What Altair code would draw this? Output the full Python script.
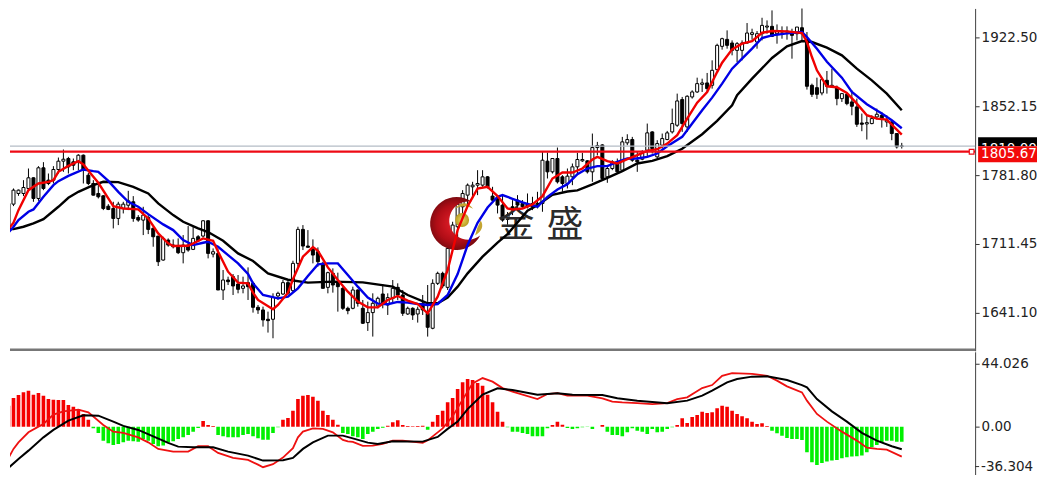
import altair as alt
import pandas as pd

open_ = [1717,1727.3,1752.1,1763,1763,1768.1,1779,1757.9,1789.2,1776.6,
1776.6,1787.5,1796,1798.7,1795.3,1795.3,1802.1,1781.7,1773.2,1763,
1760.6,1750,1747.7,1737.5,1747.7,1751,1754.5,1738.5,1735.8,1738.5,
1727.3,1719.5,1695,1715.4,1710.3,1708.6,1702.5,1710.3,1705.9,1718.8,
1719.5,1735.1,1701.1,1701.8,1664.4,1674.6,1678,1670.5,1666.1,1671.9,
1671.2,1646.7,1644,1634.5,1634.5,1658.3,1660.3,1671.9,1663.7,1691.6,
1726.3,1709.3,1706.9,1703.5,1691.6,1667.1,1681.4,1672.9,1666.1,1645.7,
1645.7,1664.4,1645.7,1631.1,1641.3,1648.1,1660.3,1649.1,1655.9,1667.1,
1659.3,1639.9,1645.7,1639.9,1650.8,1640.6,1625.3,1671.2,1681.4,1667.1,
1706.9,1729,1749.4,1761.3,1769.8,1771.5,1771.5,1780,1760.3,1757.9,
1751.1,1736.5,1749.4,1756.2,1752.8,1752.8,1752.8,1749.4,1752.8,1796,
1785.1,1798.7,1780,1773.2,1780,1790.2,1796.3,1796.3,1785.1,1809.9,
1812.6,1780,1788.5,1795.3,1786.8,1814.7,1818.1,1797,1798,1807.2,
1825.9,1800.4,1812.3,1818.1,1825.9,1832.7,1858.9,1831,1861.6,1866.7,
1874.5,1875.9,1873.5,1889.5,1913.3,1920.4,1916.7,1909.2,1909.2,1916.7,
1925.5,1917.7,1926.2,1933,1933.7,1926.2,1927.9,1928.9,1927.9,1926.2,
1932.3,1920.1,1873.5,1871.1,1865.7,1878.6,1871.8,1871.1,1859.9,1864.3,
1856.5,1851.4,1835,1834,1834.4,1841.2,1842.9,1836.1,1836.1,1824.2,1811.6]

high = [1727,1756.9,1768.1,1767,1776.6,1788.5,1779.5,1790.9,1795,1783.4,
1790.9,1799.7,1807.9,1800.4,1798.7,1803.1,1802.8,1784.1,1776.6,1773.2,
1761.3,1752.1,1754.5,1754.5,1754.5,1765.7,1760.3,1740.9,1749.4,1740.9,
1729,1719.5,1718.8,1717.1,1716.1,1717.1,1720.5,1729.7,1729,1720.5,
1735.8,1735.8,1706.9,1705.9,1684.8,1678,1680.7,1679.7,1678,1687.5,
1672.9,1649.1,1647.4,1642.3,1661,1662.7,1674.6,1673.9,1694.3,1729,
1730.7,1725.6,1716.1,1707.9,1693.3,1683.1,1686.5,1682.1,1667.8,1647.4,
1667.8,1665.1,1654.2,1652.5,1661,1657.6,1670.5,1661,1674.6,1671.2,
1664.4,1647.4,1646.7,1647.4,1659.3,1669.5,1675.3,1683.1,1683.1,1710.3,
1734.1,1754.5,1766.4,1773.2,1774.9,1786.8,1786.8,1780.7,1769.8,1761.3,
1761.3,1744,1756.2,1761.3,1756.2,1763,1759.6,1764.7,1805.5,1804.8,
1798.7,1809.9,1781.7,1788.5,1793.6,1804.5,1804.5,1797,1824.2,1815.7,
1813.3,1791.9,1797,1798.7,1820.8,1823.5,1820.8,1805.5,1807.2,1834.4,
1826.6,1817.4,1824.2,1826.9,1849.7,1865,1861.6,1863.3,1868.4,1881.3,
1880.3,1886.1,1899,1916,1922.1,1929.6,1919.4,1917.7,1919.4,1937.1,
1931.3,1928.9,1942.5,1939.8,1950,1935.7,1933.7,1933.7,1931.3,1933,
1960.2,1927.9,1875.2,1881.3,1881.3,1888.1,1890.5,1873.2,1865.7,1865.7,
1868.4,1859.9,1844.6,1842.9,1842.9,1849.7,1846.3,1842.9,1837.8,1824.2,1814.7]

low = [1710,1725.6,1750.1,1760.6,1760.3,1766.4,1754.5,1755.5,1766.4,1771.5,
1773.2,1783.4,1785.1,1783.4,1786.8,1786.8,1773.2,1771.5,1761,1757.9,
1746,1746,1727.3,1730.7,1742.6,1746,1734.1,1734.1,1720.5,1721.5,
1708.6,1688.9,1694.3,1708.6,1706.9,1701.1,1691.6,1703.5,1705.2,1713.7,
1718.1,1696.7,1697.7,1664.4,1654.2,1669.5,1659.3,1661,1661,1654.2,
1641.3,1640,1627,1620.9,1615.1,1654.2,1659.3,1659.3,1661.7,1688.2,
1705.2,1707.9,1691.6,1688.2,1666.1,1661,1661.7,1642.3,1644,1639.6,
1644.7,1647.4,1629.7,1622.6,1616.8,1645.7,1645.7,1638.9,1650.8,1654.2,
1637.9,1638.9,1633.8,1631.1,1638.9,1616.8,1624.3,1669.5,1666.1,1664.4,
1705.2,1705.2,1732.4,1749.4,1757.9,1761.3,1769.8,1768.1,1754.5,1742.6,
1734.1,1731,1740.9,1746,1747.7,1747.7,1746,1747.7,1744.3,1778.3,
1783.4,1773.2,1764.7,1768.1,1771.5,1781.7,1795.3,1783.4,1774.9,1802.1,
1775.9,1773.9,1786.8,1783.4,1785.1,1812.3,1795.3,1785.1,1797,1800.4,
1803.8,1798.7,1808.9,1817.4,1824.2,1831,1825.9,1825.9,1859.9,1865.7,
1866.7,1866.7,1870.1,1888.8,1909.9,1910.9,1904.1,1897.3,1899,1916,
1920.1,1910.9,1919.4,1926.2,1922.8,1916,1921.1,1920.1,1900.7,1919.4,
1919.4,1869.1,1861.6,1859.6,1863.3,1865,1871.1,1853.1,1856.5,1853.1,
1842.9,1831,1826.6,1818.1,1833.7,1838.5,1830.3,1831,1817.4,1808.9,1808.9]

close = [1726,1752.8,1766.4,1766.4,1769.1,1779,1757.9,1789.2,1768.1,1773.2,
1787.5,1796,1798,1790.2,1791.9,1802.1,1786.8,1773.2,1761.3,1759.6,
1747.7,1746.7,1737.5,1752.1,1752.1,1755.5,1737.5,1735.8,1740.9,1726.3,
1718.8,1693.3,1717.1,1710.3,1708.6,1702.5,1710.3,1705.2,1717.1,1714.7,
1735.1,1701.8,1703.5,1664.4,1674.6,1672.9,1668.5,1665.1,1668.5,1667.8,
1646.7,1644,1633.8,1633.1,1656.9,1661,1671.9,1661,1691.6,1726.3,
1709.3,1708,1700.1,1693.3,1666.1,1682.1,1669.5,1667.8,1645.7,1643.3,
1664.4,1650.8,1630.4,1641.3,1650.8,1655.9,1650.8,1656.6,1666.1,1659.3,
1640.6,1645.7,1638.9,1644.7,1644,1626.3,1671.2,1681.4,1668.5,1706.9,
1730.7,1752.1,1763,1771.5,1771.5,1773.2,1780,1769.8,1756.2,1751.1,
1735.8,1741,1746,1751.1,1749.4,1749.4,1749.4,1752.8,1797,1785.1,
1798.7,1774.9,1773.2,1780.7,1790.2,1797.7,1797.7,1785.1,1809.9,1812,
1778.3,1788.5,1795.3,1785.1,1815.7,1818.1,1797,1795.3,1803.8,1824.9,
1808.9,1814,1819.1,1824.9,1834.4,1857.5,1834.4,1862.3,1866.7,1875.2,
1875.9,1870.1,1888.8,1914.3,1921.1,1914.3,1909.2,1916,1916.7,1926.9,
1927.2,1926.2,1934.7,1934,1923.5,1928.9,1928.9,1927.9,1924.5,1933,
1926.2,1872.5,1864.3,1864.3,1879.3,1872.5,1873.5,1859.9,1865,1854.8,
1852.1,1833.7,1833.7,1835.4,1839.5,1843.9,1839.5,1837.8,1824.2,1810.6,1811]

fast_i = [0,2,3,5,7,9,10,11,13,15,16,18,19,21,22,24,27,29,31,33,34,37,39,40,42,43,45,47,49,
50,51,54,55,57,58,60,62,63,65,67,69,71,73,75,77,79,81,83,85,87,89,91,93,95,97,99,101,
102,104,106,108,110,112,114,116,118,119,121,123,125,127,129,131,133,135,137,139,141,143,
144,146,148,150,152,154,157,160,161,162,163,165,167,169,171,173,175,177,179,180]
fast_v = [1720.5,1733.1,1746,1766.4,1773.2,1774.9,1776.6,1785.1,1791.2,1796,1792.6,1780,1773.9,1757.9,1750.1,1747.7,1746.7,1737.5,1722.2,1712,1709.3,1709.6,1714.4,1717.1,1714.7,1703.5,1683.1,1671.9,1671.2,
1661.7,1654.2,1644.7,1649.1,1661.7,1675.3,1698.4,1708.3,1704.5,1687.5,1674.6,1662.7,1652.5,1646.7,1646.7,1654.2,1658.3,1653.5,1650.1,1640.6,1657.6,1684.8,1725.6,1750.1,1768.1,1769.8,1760.3,1747.7,
1746.7,1747.7,1751.8,1760.3,1778.3,1784.4,1784.4,1788.5,1797.7,1800.4,1796,1793.6,1798,1802.1,1806.5,1808.2,1814,1822.5,1839.5,1855.8,1866.7,1887,
1896.6,1910.2,1916,1918.7,1927.2,1928.9,1928.6,1926.9,1917.7,1902.4,1888.8,1872.5,1871.5,1865.7,1854.8,1842.9,1839.5,1838.5,1828.3,1823.2]

mid_i = [0,2,3,5,6,8,10,11,13,16,18,19,21,23,25,27,29,32,34,36,38,40,41,43,45,47,49,
50,52,55,57,59,61,63,65,67,69,71,73,75,77,79,81,83,85,87,89,91,93,95,97,99,
100,102,104,106,107,109,111,113,115,117,119,121,123,125,127,129,131,133,136,138,140,142,144,146,
148,150,152,154,157,160,161,163,165,168,170,173,176,178,180]
mid_v = [1717.1,1729,1735.8,1744.3,1746.7,1759.6,1771.5,1775.6,1781,1787.5,1785.8,1785.1,1775.9,1764.7,1754.5,1749.4,1741.9,1731.4,1725.6,1715.4,1710.3,1712.7,1713.7,1708.6,1700.1,1691.6,1680.7,
1671.2,1659.3,1655.9,1657.6,1666.1,1678.7,1690.6,1691.6,1691.6,1679.7,1667.8,1656.6,1650.5,1649.8,1652.2,1651.5,1650.1,1649.1,1650.1,1659.3,1680.7,1710.3,1733.1,1748.7,1759.6,
1761.3,1757.6,1753.8,1750.8,1749.4,1759.6,1767.1,1772.5,1782.7,1788.5,1790.9,1790.9,1795.3,1798.7,1798.7,1800.4,1803.8,1811.3,1820.8,1834.4,1848,1860.9,1875.2,1890.5,
1900.7,1910.9,1921.8,1924.5,1926.5,1927.9,1922.8,1910.9,1897.6,1881.3,1866.7,1854.1,1844.6,1837.8,1829.6]

slow_i = [0,2,4,6,8,11,13,15,18,20,23,26,29,31,34,36,39,41,44,47,50,53,57,61,66,72,78,81,85,87,89,91,93,96,99,101,
105,107,110,113,115,118,121,124,127,130,133,136,140,143,146,147,150,154,157,160,162,165,168,171,174,177,180]
slow_v = [1726.6,1726.6,1729,1732.4,1736.8,1749.4,1758.6,1764.7,1771.5,1774.9,1774.6,1769.8,1763,1752.8,1740.9,1734.1,1727.3,1723.6,1714.7,1701.8,1694,1681.4,1674.9,1671.9,1672.9,1672.2,1667.8,1659.3,1650.8,1650.8,1656.6,1667.8,1681.4,1698.4,1712.7,1721.5,
1745.3,1751.1,1761.6,1765,1766.1,1772.2,1779,1785.8,1793.6,1796.3,1801.1,1808.6,1823.5,1837.1,1853.1,1863.3,1880.3,1901.4,1913.3,1918.7,1917.7,1911.9,1904.1,1890.5,1878.6,1865,1848]

hist = [8.9,14.7,20.0,22.1,24.0,25.2,22.4,23.5,21.7,19.3,18.9,18.6,18.6,15.1,14.0,12.3,8.9,4.9,-1.2,-4.4,
-9.8,-11.7,-12.8,-12.1,-11.0,-9.8,-10.3,-10.5,-8.6,-9.8,-12.1,-13.7,-13.3,-11.0,-10.3,-8.6,-7.5,-5.8,-3.5,-0.9,
4.0,1.2,0.5,-5.8,-6.8,-7.5,-7.5,-7.5,-5.8,-5.1,-6.8,-8.2,-9.1,-9.1,-4.4,-0.5,4.9,6.1,11.2,19.3,
21.7,22.1,21.0,18.2,11.2,8.2,4.9,1.4,-4.4,-5.1,-6.8,-7.5,-8.6,-5.1,-3.5,-1.6,-0.7,0.7,3.0,4.4,
1.2,0.5,0.2,0.5,0.7,-2.1,3.5,8.2,11.2,17.0,20.0,26.3,31.0,33.3,32.6,30.5,28.7,22.4,17.0,10.5,
3.5,-0.5,-3.5,-3.5,-4.4,-5.1,-6.8,-6.8,-6.8,-1.2,1.2,3.5,1.4,-0.9,-1.6,-1.2,-0.5,-0.2,-1.6,-0.1,
1.2,-3.5,-5.8,-5.8,-6.8,-4.0,-1.2,-2.8,-3.5,-5.1,-1.6,-4.0,-3.5,-1.6,-0.5,1.2,5.8,2.6,6.8,8.2,
10.5,9.6,10.0,12.8,14.7,14.0,11.2,8.9,7.2,5.8,3.5,1.9,2.3,0.5,-2.8,-4.7,-6.3,-7.9,-8.6,-8.6,
-9.3,-17.9,-24.9,-26.8,-25.4,-24.5,-23.8,-23.3,-22.1,-21.4,-21.0,-20.7,-20.3,-17.9,-14.4,-12.8,-11.0,-9.8,-9.8,-10.5,-10.5]

macd_i = [0,1,2,3,5,7,8,10,12,15,17,20,22,24,27,29,31,34,37,39,41,43,46,49,51,52,54,56,58,59,60,62,64,66,68,69,
70,72,74,76,78,80,84,85,86,88,90,92,94,96,98,100,102,107,109,111,113,117,120,122,124,127,130,133,135,137,
140,142,144,146,150,153,155,157,160,161,163,165,168,171,173,175,177,180]
macd_v = [-26.1,-21.9,-15.6,-11,-4,0,1.9,8.4,10.7,11.9,10,1.2,-3.5,-4.4,-7.5,-11,-15.6,-17.5,-17.5,-13.7,-13.7,-18.4,-21.9,-23.3,-26.6,-28.4,-26.3,-21.7,-15.1,-7.5,-3.5,-1.2,-1.6,-4,-9.3,-10.3,
-10.7,-13.5,-13.3,-12.1,-9.8,-9.8,-11.4,-9.6,-6.8,-1.2,7.2,18.9,30.3,34,31.5,27,24.5,19.3,22.8,23.5,21.7,21.7,19.8,17.5,17,16.5,15.8,16.5,19.3,20.5,
27,29.1,35.6,37.5,37,35.6,32.2,28.2,24,18.2,8.9,3.5,-3.5,-9.8,-14.7,-15.6,-16.1,-21]

signal_i = [0,1,3,5,8,10,13,16,19,22,24,27,30,33,35,38,42,45,49,52,56,58,60,62,65,68,
70,73,75,78,84,87,89,91,93,96,99,102,107,111,114,120,123,127,133,137,
140,142,145,147,150,153,157,160,161,163,166,169,172,175,178,180]
signal_v = [-30.8,-28.9,-22.6,-16.8,-7.5,-2.3,4.2,7.9,7.7,3.5,0.5,-2.3,-6.8,-11.4,-14,-14.4,-14.4,-17.5,-20.3,-23.8,-23.5,-21.9,-15.6,-11,-6.3,-6.3,
-8.2,-11.2,-12.1,-10.3,-10.5,-7.2,-1.6,3.5,12.3,22.4,26.8,25.6,22.4,23.3,22.4,22.1,19.8,18.2,16.3,18.2,
21.7,25.2,31,33.3,35,35.2,32.6,29.1,27.5,19.3,10.7,3.5,-4.4,-9.8,-13.7,-15.8]

price_ticks = [1641.10, 1711.45, 1781.80, 1852.15, 1922.50]
macd_ticks = [0, 44.026]
macd_low_label = "-36.304"
bid_price = 1811.4
line_price = 1805.67
ask_label = "1810.00"
line_label = "1805.67"
logo_words = ["金", "盛"]

FONT = "DejaVu Sans"
FS = 13.5
PW = 967
RIGHT = 1029
xs = alt.Scale(domain=[1.3, 194.7], nice=False, zero=False, padding=0)
ys = alt.Scale(domain=[1602.3, 1952.0], nice=False, zero=False)
ms = alt.Scale(domain=[-33.55, 52.4], nice=False, zero=False)
X = alt.X("i:Q", scale=xs, axis=None)
one = pd.DataFrame({"k": [0]})

candles = pd.DataFrame({"i": range(len(open_)), "o": open_, "h": high, "l": low, "c": close})
candles["up"] = candles.c >= candles.o

price_axis = alt.Axis(values=price_ticks, format=".2f", grid=False, orient="right", tickSize=4,
                      tickColor="#333333", domainColor="#404040", labelFont=FONT, labelFontSize=FS,
                      labelColor="#222222", labelPadding=2, labelOverlap=False, labelFlush=False, title=None)
macd_axis = alt.Axis(values=macd_ticks, grid=False, orient="right", tickSize=4,
                     labelExpr="datum.value === 0 ? '0.00' : format(datum.value, '.3f')",
                     tickColor="#333333", domainColor="#404040", labelFont=FONT, labelFontSize=FS,
                     labelColor="#222222", labelPadding=2, labelOverlap=False, labelFlush=False, title=None)


def yp(f):
    return alt.Y(f, scale=ys, axis=price_axis)


def ym(f):
    return alt.Y(f, scale=ms, axis=macd_axis)


def ma(i, v, color):
    d = pd.DataFrame({"i": i, "v": v})
    return alt.Chart(d).mark_line(color=color, strokeWidth=2.4, clip=True).encode(x=X, y=yp("v:Q"))


def dot(px, py, size, **kw):
    return alt.Chart(one).mark_point(filled=True, opacity=1, strokeWidth=0, size=size, **kw).encode(
        x=alt.value(px), y=alt.value(py))


wicks = alt.Chart(candles).mark_rule(color="#000000", strokeWidth=1, clip=True).encode(
    x=X, y=yp("l:Q"), y2="h:Q")
bodies = alt.Chart(candles).mark_bar(size=3, stroke="#000000", strokeWidth=1, clip=True).encode(
    x=X, y=yp("o:Q"), y2="c:Q",
    color=alt.condition("datum.up", alt.value("#ffffff"), alt.value("#000000")))

crescent = dot(447.5, 215.5, 2809,
               shape="M 0.58 -0.815 A 1 1 0 1 0 0.89 0.455 A 0.72 0.72 0 1 1 0.58 -0.815 Z",
               fill=alt.RadialGradient(gradient="radial", stops=[
                   alt.GradientStop(color="#e8202a", offset=0),
                   alt.GradientStop(color="#b00d16", offset=0.7),
                   alt.GradientStop(color="#7d0a10", offset=1)]))
ball = dot(453, 212, 196, shape="circle",
           fill=alt.RadialGradient(gradient="radial", stops=[
               alt.GradientStop(color="#ecd860", offset=0),
               alt.GradientStop(color="#b89a20", offset=1)]))
leaf_top = dot(455, 198, 324, shape="M -1 0.3 Q 0 -0.9 1 0.3 Q 0 -0.25 -1 0.3 Z", fill="#c4a532")
leaf_right = dot(469, 220, 225, shape="M 0.35 -1 Q 1 0.1 -0.4 1 Q -0.2 0 0.35 -1 Z", fill="#c4a532")

word1 = alt.Chart(one).mark_text(text=logo_words[0], font="Noto Sans CJK SC", fontSize=37, color="#2b2b2b").encode(
    x=alt.value(507), y=alt.value(218))
word2 = alt.Chart(one).mark_text(text=logo_words[1], font="Noto Sans CJK SC", fontSize=37, color="#2b2b2b").encode(
    x=alt.value(556), y=alt.value(218))

bid_line = alt.Chart(pd.DataFrame({"p": [bid_price]})).mark_rule(color="#b4bcc6", strokeWidth=1.2).encode(
    y=yp("p:Q"), x=alt.value(0), x2=alt.value(PW))
level_line = alt.Chart(pd.DataFrame({"p": [line_price]})).mark_rule(color="#ee0a14", strokeWidth=2.2).encode(
    y=yp("p:Q"), x=alt.value(0), x2=alt.value(PW))
level_box = alt.Chart(pd.DataFrame({"p": [line_price]})).mark_point(
    shape="square", size=22, filled=True, fill="#ffffff", stroke="#ee0a14", strokeWidth=1.2, opacity=1).encode(
    y=yp("p:Q"), x=alt.value(963.5))

box_df = pd.DataFrame({"a": [1820.5, 1811.3], "b": [1811.3, 1795.0], "t": [1808.5, 1803.2],
                       "label": [ask_label, line_label]})
black_rect = alt.Chart(box_df.iloc[[0]]).mark_rect(color="#000000").encode(
    x=alt.value(970), x2=alt.value(RIGHT), y=yp("a:Q"), y2="b:Q")
black_text = alt.Chart(box_df.iloc[[0]]).mark_text(align="left", font=FONT, fontSize=FS, color="#ffffff").encode(
    x=alt.value(973), y=yp("t:Q"), text="label:N")
red_rect = alt.Chart(box_df.iloc[[1]]).mark_rect(color="#f20a0a").encode(
    x=alt.value(970), x2=alt.value(RIGHT), y=yp("a:Q"), y2="b:Q")
red_text = alt.Chart(box_df.iloc[[1]]).mark_text(align="left", font=FONT, fontSize=FS, color="#ffffff").encode(
    x=alt.value(973), y=yp("t:Q"), text="label:N")

separator = alt.Chart(one).mark_rule(color="#777777", strokeWidth=2.4).encode(
    x=alt.value(0), x2=alt.value(PW), y=alt.value(342))

top = alt.layer(
    wicks, bodies, crescent, leaf_top, leaf_right, ball, word1, word2,
    ma(slow_i, slow_v, "#000000"), ma(mid_i, mid_v, "#0000e6"), ma(fast_i, fast_v, "#f00000"),
    bid_line, level_line, level_box, black_rect, black_text, red_rect, red_text, separator,
).properties(width=PW, height=343)

hist_df = pd.DataFrame({"i": range(len(hist)), "v": hist})
hist_df["z"] = 0.0
hist_df["pos"] = hist_df.v >= 0
bars = alt.Chart(hist_df).mark_bar(size=3.6, clip=True).encode(
    x=X, y=ym("v:Q"), y2="z:Q",
    color=alt.condition("datum.pos", alt.value("#f50000"), alt.value("#00f000")))
macd_line = alt.Chart(pd.DataFrame({"i": macd_i, "v": macd_v})).mark_line(
    color="#ee1111", strokeWidth=1.8, clip=True).encode(x=X, y=ym("v:Q"))
signal_line = alt.Chart(pd.DataFrame({"i": signal_i, "v": signal_v})).mark_line(
    color="#000000", strokeWidth=2, clip=True).encode(x=X, y=ym("v:Q"))
low_label = alt.Chart(one).mark_text(text=macd_low_label, align="left", font=FONT, fontSize=FS, color="#222222").encode(
    x=alt.value(973), y=alt.value(115))
low_tick = alt.Chart(one).mark_rule(color="#333333", strokeWidth=1).encode(
    x=alt.value(967), x2=alt.value(971), y=alt.value(115))

bottom = alt.layer(bars, macd_line, signal_line, low_label, low_tick).properties(width=PW, height=123)

chart = alt.vconcat(top, bottom, spacing=0).properties(padding=0, background="#ffffff").configure_view(stroke=None)
chart.save("out.html", embed_options={"renderer": "svg", "actions": False})
